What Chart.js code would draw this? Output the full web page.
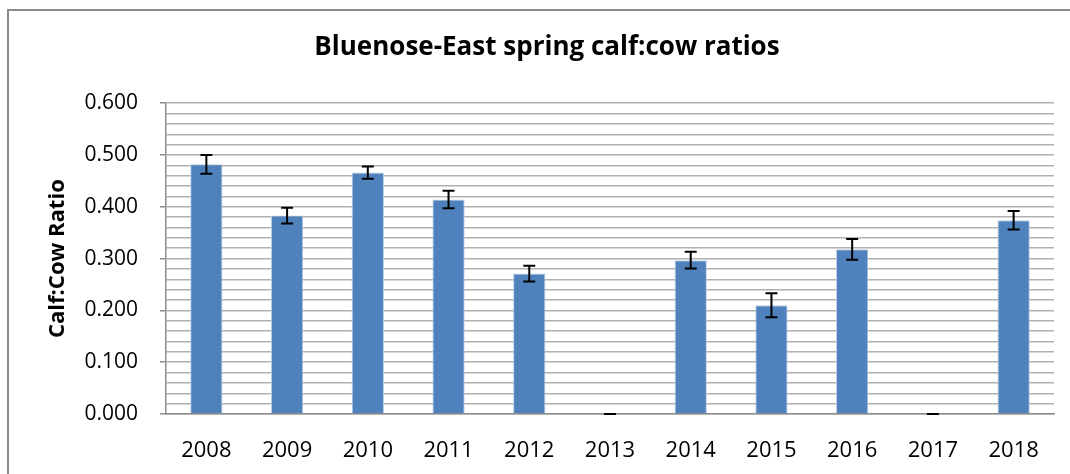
<!DOCTYPE html>
<html>
<head>
<meta charset="utf-8">
<script src="https://cdn.jsdelivr.net/npm/chart.js@4/dist/chart.umd.min.js"></script>
<style>
  html, body { margin: 0; padding: 0; background: #fff; }
  #wrap { position: relative; width: 1070px; height: 474px; }
  #frame { position: absolute; left: 7px; top: 9px; right: -5px; bottom: -5px;
           border-top: 2px solid #8c8c8c; border-left: 2px solid #8c8c8c; pointer-events: none; }
  canvas { display: block; }
</style>
</head>
<body>
<div id="wrap">
  <canvas id="c" width="1070" height="474"></canvas>
  <div id="frame"></div>
</div>
<script>
const years = ['2008', '2009', '2010', '2011', '2012', '2013', '2014', '2015', '2016', '2017', '2018'];
const ratios = [0.482, 0.383, 0.466, 0.414, 0.271, 0, 0.297, 0.210, 0.318, 0, 0.374];
const errors = [0.018, 0.015, 0.012, 0.017, 0.015, 0, 0.016, 0.023, 0.020, 0, 0.018];
const chartTitle = 'Bluenose-East spring calf:cow ratios';
const yAxisTitle = 'Calf:Cow Ratio';

const FONT = "'Open Sans', 'Liberation Sans', sans-serif";

function isMajor(v) {
  return Math.abs(v * 10 - Math.round(v * 10)) < 1e-6;
}

const errorBars = {
  id: 'errorBars',
  afterDatasetsDraw(chart) {
    const ctx = chart.ctx;
    const meta = chart.getDatasetMeta(0);
    const yScale = chart.scales.y;
    ctx.save();
    ctx.strokeStyle = '#000';
    ctx.lineWidth = 2;
    meta.data.forEach((bar, i) => {
      const v = ratios[i], e = errors[i];
      const x = bar.x;
      const yTop = yScale.getPixelForValue(v + e);
      const yBot = yScale.getPixelForValue(v - e);
      const cap = 6;
      ctx.beginPath();
      ctx.moveTo(x, yTop); ctx.lineTo(x, yBot);
      ctx.moveTo(x - cap, yTop); ctx.lineTo(x + cap, yTop);
      ctx.moveTo(x - cap, yBot); ctx.lineTo(x + cap, yBot);
      ctx.stroke();
    });
    ctx.restore();
  }
};

new Chart(document.getElementById('c'), {
  type: 'bar',
  data: {
    labels: years,
    datasets: [{
      data: ratios,
      backgroundColor: '#4F81BD',
      borderColor: '#b9cde5',
      borderWidth: 1,
      barPercentage: 0.4,
      categoryPercentage: 1.0
    }]
  },
  options: {
    responsive: false,
    animation: false,
    events: [],
    layout: { padding: { left: 40, right: 16, top: 0, bottom: 0 } },
    plugins: {
      legend: { display: false },
      tooltip: { enabled: false },
      title: {
        display: true,
        text: chartTitle,
        color: '#000',
        font: { family: FONT, size: 26, weight: 'bold' },
        padding: { top: 32, bottom: 40 }
      }
    },
    scales: {
      x: {
        grid: { display: false, drawTicks: false },
        border: { display: true, color: '#8c8c8c', width: 1.5 },
        ticks: {
          color: '#000',
          font: { family: FONT, size: 22 },
          padding: 24,
          maxRotation: 0,
          autoSkip: false
        },
        afterFit(scale) { scale.height = 60; }
      },
      y: {
        min: 0,
        max: 0.6,
        afterFit(scale) { scale.width = 126; },
        border: { display: true, color: '#8c8c8c', width: 1.5 },
        grid: {
          color: '#b0b0b0',
          lineWidth: 1.5,
          tickLength: 6,
          tickColor: (ctx) => (ctx.tick && isMajor(ctx.tick.value)) ? '#8c8c8c' : 'rgba(0,0,0,0)'
        },
        ticks: {
          stepSize: 0.02,
          autoSkip: false,
          color: '#000',
          padding: 22,
          font: { family: FONT, size: 21 },
          callback: (v) => isMajor(v) ? Number(v).toFixed(3) : ''
        },
        title: {
          display: true,
          text: yAxisTitle,
          color: '#000',
          font: { family: FONT, size: 22, weight: 'bold' },
          padding: { top: 5, bottom: 0 }
        }
      }
    }
  },
  plugins: [errorBars]
});
</script>
</body>
</html>
